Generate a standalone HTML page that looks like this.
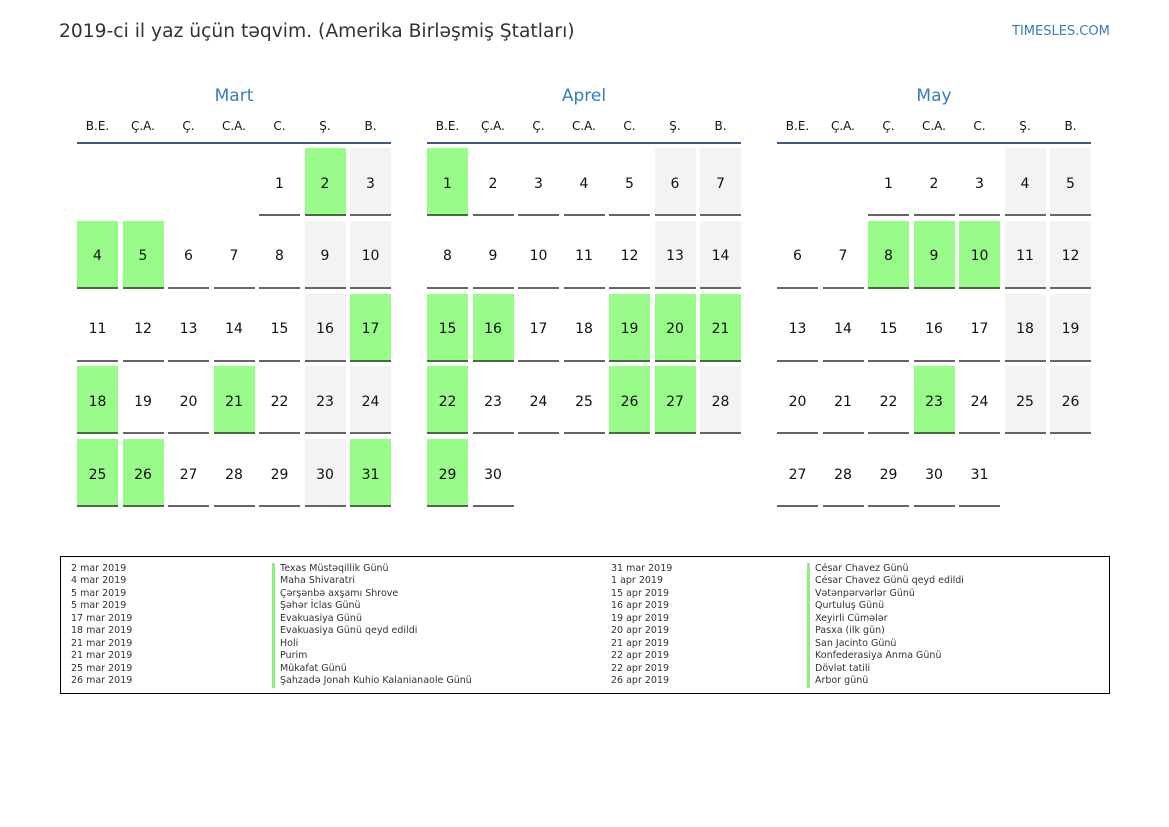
<!DOCTYPE html>
<html><head><meta charset="utf-8"><style>
body{margin:0;width:1169px;height:827px;background:#fff;font-family:"DejaVu Sans","Liberation Sans",sans-serif;position:relative;overflow:hidden;color:#111}
.t{position:absolute;left:59px;top:21px;font-size:18.7px;color:#333}
.brand{position:absolute;left:1012px;top:24px;font-size:13px;color:#3a7abf}
.m{position:absolute;top:86px;width:314px}
.mt{text-align:center;font-size:17px;color:#3a7abf;height:22px}
.dn{display:grid;grid-template-columns:repeat(7,41px);column-gap:4.5px;font-size:12px;text-align:center;margin-top:11px;height:23px}
.hl{height:2px;background:#3d5a80}
.g7{display:grid;grid-template-columns:repeat(7,41px);column-gap:4.5px;grid-auto-rows:68px;row-gap:4.8px;margin-top:4px}
.g7 div{box-sizing:border-box;border-bottom:2px solid #666;display:flex;align-items:center;justify-content:center;font-size:14px;padding-top:5px}
.g7 div.e{border:none}
.g7 div.w{background:#f3f3f3}
.g7 div.g{background:#99fb8a;border-bottom-color:#4a6a40}
.lg{position:absolute;left:60px;top:556px;width:1048px;height:136px;border:1px solid #000;font-size:9.5px;color:#333}
.c{position:absolute;top:6px;line-height:12.45px}
.c.b div{border-left:3px solid #8ef07c;padding-left:5px}
</style></head><body>
<div class="t">2019-ci il yaz üçün təqvim. (Amerika Birləşmiş Ştatları)</div>
<div class="brand">TIMESLES.COM</div>

<div class="m" style="left:77px"><div class="mt">Mart</div>
<div class="dn"><span>B.E.</span><span>Ç.A.</span><span>Ç.</span><span>C.A.</span><span>C.</span><span>Ş.</span><span>B.</span></div><div class="hl"></div>
<div class="g7">
<div class="e"></div><div class="e"></div><div class="e"></div><div class="e"></div><div>1</div><div class="g">2</div><div class="w">3</div>
<div class="g">4</div><div class="g">5</div><div>6</div><div>7</div><div>8</div><div class="w">9</div><div class="w">10</div>
<div>11</div><div>12</div><div>13</div><div>14</div><div>15</div><div class="w">16</div><div class="g">17</div>
<div class="g">18</div><div>19</div><div>20</div><div class="g">21</div><div>22</div><div class="w">23</div><div class="w">24</div>
<div class="g">25</div><div class="g">26</div><div>27</div><div>28</div><div>29</div><div class="w">30</div><div class="g">31</div>
</div></div>

<div class="m" style="left:427px"><div class="mt">Aprel</div>
<div class="dn"><span>B.E.</span><span>Ç.A.</span><span>Ç.</span><span>C.A.</span><span>C.</span><span>Ş.</span><span>B.</span></div><div class="hl"></div>
<div class="g7">
<div class="g">1</div><div>2</div><div>3</div><div>4</div><div>5</div><div class="w">6</div><div class="w">7</div>
<div>8</div><div>9</div><div>10</div><div>11</div><div>12</div><div class="w">13</div><div class="w">14</div>
<div class="g">15</div><div class="g">16</div><div>17</div><div>18</div><div class="g">19</div><div class="g">20</div><div class="g">21</div>
<div class="g">22</div><div>23</div><div>24</div><div>25</div><div class="g">26</div><div class="g">27</div><div class="w">28</div>
<div class="g">29</div><div>30</div>
</div></div>

<div class="m" style="left:777px"><div class="mt">May</div>
<div class="dn"><span>B.E.</span><span>Ç.A.</span><span>Ç.</span><span>C.A.</span><span>C.</span><span>Ş.</span><span>B.</span></div><div class="hl"></div>
<div class="g7">
<div class="e"></div><div class="e"></div><div>1</div><div>2</div><div>3</div><div class="w">4</div><div class="w">5</div>
<div>6</div><div>7</div><div class="g">8</div><div class="g">9</div><div class="g">10</div><div class="w">11</div><div class="w">12</div>
<div>13</div><div>14</div><div>15</div><div>16</div><div>17</div><div class="w">18</div><div class="w">19</div>
<div>20</div><div>21</div><div>22</div><div class="g">23</div><div>24</div><div class="w">25</div><div class="w">26</div>
<div>27</div><div>28</div><div>29</div><div>30</div><div>31</div>
</div></div>

<div class="lg">
<div class="c" style="left:10px"><div>2 mar 2019</div><div>4 mar 2019</div><div>5 mar 2019</div><div>5 mar 2019</div><div>17 mar 2019</div><div>18 mar 2019</div><div>21 mar 2019</div><div>21 mar 2019</div><div>25 mar 2019</div><div>26 mar 2019</div></div>
<div class="c b" style="left:211px"><div>Texas Müstəqillik Günü</div><div>Maha Shivaratri</div><div>Çərşənbə axşamı Shrove</div><div>Şəhər İclas Günü</div><div>Evakuasiya Günü</div><div>Evakuasiya Günü qeyd edildi</div><div>Holi</div><div>Purim</div><div>Mükafat Günü</div><div>Şahzadə Jonah Kuhio Kalanianaole Günü</div></div>
<div class="c" style="left:550px"><div>31 mar 2019</div><div>1 apr 2019</div><div>15 apr 2019</div><div>16 apr 2019</div><div>19 apr 2019</div><div>20 apr 2019</div><div>21 apr 2019</div><div>22 apr 2019</div><div>22 apr 2019</div><div>26 apr 2019</div></div>
<div class="c b" style="left:746px"><div>César Chavez Günü</div><div>César Chavez Günü qeyd edildi</div><div>Vətənpərvərlər Günü</div><div>Qurtuluş Günü</div><div>Xeyirli Cümələr</div><div>Pasxa (ilk gün)</div><div>San Jacinto Günü</div><div>Konfederasiya Anma Günü</div><div>Dövlət tatili</div><div>Arbor günü</div></div>
</div>
</body></html>
